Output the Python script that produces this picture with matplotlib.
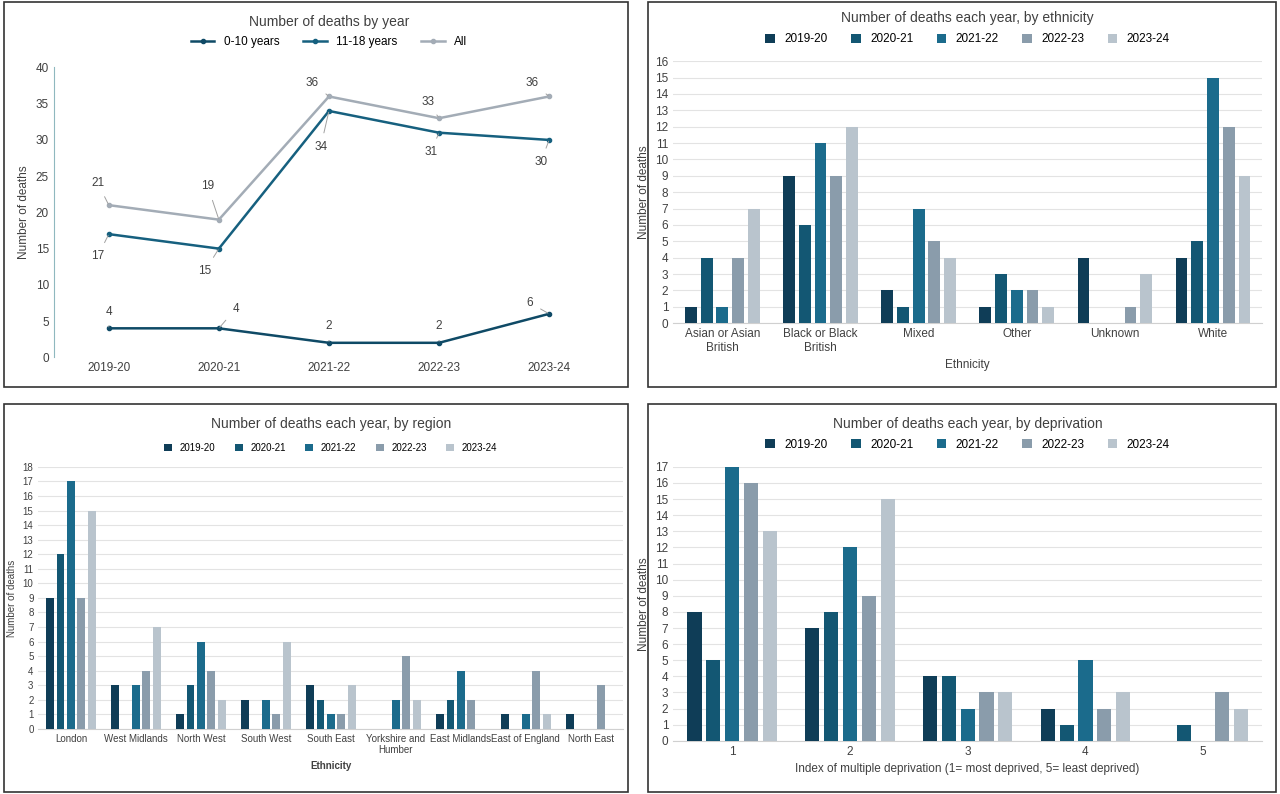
#Plots the four panels of child deaths: by year, ethnicity, region and deprivation

import numpy as np
import matplotlib.pyplot as plt
from matplotlib.patches import Rectangle

plt.rcParams['font.family'] = ['Liberation Sans', 'DejaVu Sans']
plt.rcParams['font.size'] = 8

years = ['2019-20', '2020-21', '2021-22', '2022-23', '2023-24']
colours = ['#0f3d57', '#135773', '#1b6b8c', '#8a9cab', '#b9c4cd']

fig = plt.figure(figsize = (12.8, 7.94), dpi = 100)

#boxes round each panel
for (x0, y0, w, h) in [(0.003, 0.512, 0.488, 0.485), (0.506, 0.512, 0.491, 0.485),
                       (0.003, 0.003, 0.488, 0.488), (0.506, 0.003, 0.491, 0.488)]:
    fig.patches.append(Rectangle((x0, y0), w, h, transform = fig.transFigure,
                                 fill = False, edgecolor = '#333333', linewidth = 1.2))

#Line chart: deaths by year
ax = fig.add_axes([0.042, 0.55, 0.43, 0.365])
young = [4, 4, 2, 2, 6]
older = [17, 15, 34, 31, 30]
total = [21, 19, 36, 33, 36]
x = np.arange(5)
ax.plot(x, young, color = '#0f4a66', marker = 'o', markersize = 3, linewidth = 1.8, label = '0-10 years')
ax.plot(x, older, color = '#16607f', marker = 'o', markersize = 3, linewidth = 1.8, label = '11-18 years')
ax.plot(x, total, color = '#a3acb6', marker = 'o', markersize = 3, linewidth = 1.8, label = 'All')
offsets = {'young': [(0, 12), (12, 14), (0, 12), (0, 12), (-14, 8)],
           'older': [(-8, -16), (-10, -16), (-6, -26), (-6, -14), (-6, -16)],
           'total': [(-8, 16), (-8, 24), (-12, 10), (-8, 12), (-12, 10)]}
for key, vals in [('young', young), ('older', older), ('total', total)]:
    for i, v in enumerate(vals):
        ax.annotate(str(v), (i, v), xytext = offsets[key][i], textcoords = 'offset points',
                    ha = 'center', va = 'center', fontsize = 8.5, color = '#404040',
                    arrowprops = dict(arrowstyle = '-', color = '#a0a0a0', linewidth = 0.7,
                                      shrinkA = 4, shrinkB = 1))
ax.set_xticks(x)
ax.set_xticklabels(years, fontsize = 8.5, color = '#404040')
ax.set_ylim(0, 40)
ax.set_xlim(-0.5, 4.5)
ax.set_yticks(range(0, 41, 5))
ax.tick_params(length = 0, labelsize = 8.5, colors = '#404040')
for s in ['top', 'right', 'bottom']:
    ax.spines[s].set_visible(False)
ax.spines['left'].set_color('#8fb8bf')
ax.set_ylabel('Number of deaths', fontsize = 8.5, color = '#404040')
ax.set_title('Number of deaths by year', fontsize = 10, color = '#404040', pad = 30)
ax.legend(loc = 'lower center', bbox_to_anchor = (0.5, 1.03), ncol = 3, frameon = False, fontsize = 8.5)

def grouped(ax, groups, data, title, xlabel, ymax, bold = False, labelsize = 8.5):
    n = len(groups)
    x = np.arange(n)
    w = 0.12
    for j, yr in enumerate(years):
        ax.bar(x + (j - 2) * 0.16, [d[j] for d in data], width = w, color = colours[j], label = yr, zorder = 3)
    ax.set_xticks(x)
    ax.set_xticklabels(groups, fontsize = labelsize, color = '#404040')
    ax.set_ylim(0, ymax)
    ax.set_xlim(-0.5, n - 0.5)
    ax.set_yticks(range(0, ymax + 1))
    ax.grid(axis = 'y', color = '#e3e3e3', linewidth = 0.8, zorder = 0)
    ax.tick_params(length = 0, labelsize = labelsize, colors = '#404040')
    for s in ['top', 'right', 'left']:
        ax.spines[s].set_visible(False)
    ax.spines['bottom'].set_color('#d0d0d0')
    ax.set_ylabel('Number of deaths', fontsize = labelsize, color = '#404040')
    ax.set_xlabel(xlabel, fontsize = labelsize, color = '#404040', fontweight = 'bold' if bold else 'normal')
    ax.set_title(title, fontsize = 10, color = '#404040', pad = 28)
    ax.legend(loc = 'lower center', bbox_to_anchor = (0.5, 1.02), ncol = 5, frameon = False,
              fontsize = labelsize, handlelength = 0.8, handleheight = 0.8)

ethnicity = ['Asian or Asian\nBritish', 'Black or Black\nBritish', 'Mixed', 'Other', 'Unknown', 'White']
eth_data = [[1, 4, 1, 4, 7], [9, 6, 11, 9, 12], [2, 1, 7, 5, 4],
            [1, 3, 2, 2, 1], [4, 0, 0, 1, 3], [4, 5, 15, 12, 9]]
ax2 = fig.add_axes([0.526, 0.593, 0.46, 0.33])
grouped(ax2, ethnicity, eth_data, 'Number of deaths each year, by ethnicity', 'Ethnicity', 16)

regions = ['London', 'West Midlands', 'North West', 'South West', 'South East',
           'Yorkshire and\nHumber', 'East Midlands', 'East of England', 'North East']
reg_data = [[9, 12, 17, 9, 15], [3, 0, 3, 4, 7], [1, 3, 6, 4, 2], [2, 0, 2, 1, 6], [3, 2, 1, 1, 3],
            [0, 0, 2, 5, 2], [1, 2, 4, 2, 0], [1, 0, 1, 4, 1], [1, 0, 0, 3, 0]]
ax3 = fig.add_axes([0.03, 0.082, 0.457, 0.33])
grouped(ax3, regions, reg_data, 'Number of deaths each year, by region', 'Ethnicity', 18, bold = True, labelsize = 7)

deprivation = ['1', '2', '3', '4', '5']
dep_data = [[8, 5, 17, 16, 13], [7, 8, 12, 9, 15], [4, 4, 2, 3, 3], [2, 1, 5, 2, 3], [0, 1, 0, 3, 2]]
ax4 = fig.add_axes([0.526, 0.067, 0.46, 0.345])
grouped(ax4, deprivation, dep_data, 'Number of deaths each year, by deprivation',
        'Index of multiple deprivation (1= most deprived, 5= least deprived)', 17)

fig.savefig('out.png')
